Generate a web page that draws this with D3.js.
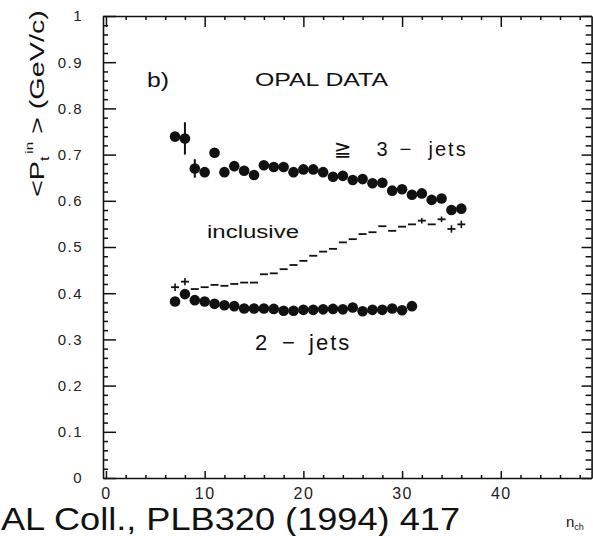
<!DOCTYPE html>
<html><head><meta charset="utf-8">
<script src="https://cdn.jsdelivr.net/npm/d3@7"></script>
<style>html,body{margin:0;padding:0;background:#fff;} svg{display:block;}</style>
</head><body><svg id="chart" width="593" height="536"></svg>
<script>
// ---- data ----
const threeJetN   = [7,8,9,10,11,12,13,14,15,16,17,18,19,20,21,22,23,24,25,26,27,28,29,30,31,32,33,34,35,36];
const threeJetVal = [0.739,0.735,0.670,0.662,0.704,0.662,0.675,0.665,0.656,0.677,0.673,0.673,0.662,0.668,0.668,
                     0.662,0.652,0.654,0.645,0.647,0.638,0.639,0.622,0.625,0.613,0.616,0.602,0.605,0.580,0.583];
const threeJetErr = [0.006,0.035,0.020,0,0,0,0,0,0,0,0,0,0,0,0,0,0,0,0,0,0,0,0,0,0,0,0,0,0,0];

const twoJetN   = [7,8,9,10,11,12,13,14,15,16,17,18,19,20,21,22,23,24,25,26,27,28,29,30,31];
const twoJetVal = [0.382,0.398,0.385,0.382,0.377,0.374,0.372,0.367,0.367,0.367,0.366,0.362,0.362,0.364,0.364,
                   0.365,0.366,0.365,0.369,0.361,0.364,0.364,0.367,0.363,0.372];

const inclN   = [7,8,9,10,11,12,13,14,15,16,17,18,19,20,21,22,23,24,25,26,27,28,29,30,31,32,33,34,35,36];
const inclVal = [0.413,0.425,0.409,0.413,0.418,0.416,0.420,0.423,0.423,0.441,0.443,0.452,0.461,0.470,0.481,
                 0.490,0.496,0.510,0.517,0.528,0.532,0.545,0.535,0.544,0.549,0.557,0.549,0.560,0.539,0.549];
const inclErr = [0.008,0.008,0,0,0,0,0,0,0,0,0,0,0,0,0,0,0,0,0,0,0,0,0,0,0,0.006,0,0.006,0.008,0.008];

const yTickValues = [0,0.1,0.2,0.3,0.4,0.5,0.6,0.7,0.8,0.9,1];
const yTickLabels = ["0","0.1","0.2","0.3","0.4","0.5","0.6","0.7","0.8","0.9","1"];
const xTickValues = [0,10,20,30,40];
const xTickLabels = ["0","10","20","30","40"];

// ---- drawing ----
const ink = "#111";
const svg = d3.select("#chart");
svg.append("rect").attr("width",593).attr("height",536).attr("fill","#fff");

const x = d3.scaleLinear().domain([-0.3, 49.2]).range([103, 591.6]);
const y = d3.scaleLinear().domain([0, 1]).range([478, 16]);

const yMinor = d3.range(0, 1.0001, 0.02).filter(v => Math.abs(v*10 - Math.round(v*10)) > 1e-6);
const xMinor = d3.range(0, 49, 2).filter(v => v % 10 !== 0);

function styleAxis(g){
  g.selectAll("path.domain").attr("stroke", ink).attr("stroke-width", 1.6);
  g.selectAll(".tick line").attr("stroke", ink).attr("stroke-width", 1.5);
  g.selectAll(".tick text").attr("fill", "#222");
}

// left
const gl = svg.append("g").attr("transform","translate(103,0)")
  .call(d3.axisLeft(y).tickValues(yTickValues).tickSize(-13).tickSizeOuter(0).tickPadding(20)
    .tickFormat((d,i)=>yTickLabels[i]));
styleAxis(gl);
gl.selectAll(".tick text").attr("font-family","'Liberation Sans', Arial, sans-serif")
  .attr("font-size",15).attr("letter-spacing","1.5px");
svg.append("g").attr("transform","translate(103,0)")
  .call(d3.axisLeft(y).tickValues(yMinor).tickSize(-5).tickSizeOuter(0).tickFormat(""))
  .call(g=>g.select("path.domain").remove()).call(styleAxis);

// right
const gr = svg.append("g").attr("transform","translate(591.6,0)")
  .call(d3.axisRight(y).tickValues(yTickValues).tickSize(-10).tickSizeOuter(0).tickFormat(""));
styleAxis(gr);
svg.append("g").attr("transform","translate(591.6,0)")
  .call(d3.axisRight(y).tickValues(yMinor).tickSize(-6).tickSizeOuter(0).tickFormat(""))
  .call(g=>g.select("path.domain").remove()).call(styleAxis);

// bottom
const gb = svg.append("g").attr("transform","translate(0,478)")
  .call(d3.axisBottom(x).tickValues(xTickValues).tickSize(-7).tickSizeOuter(0).tickPadding(10)
    .tickFormat((d,i)=>xTickLabels[i]));
styleAxis(gb);
gb.selectAll(".tick text").attr("font-family","'Liberation Sans', Arial, sans-serif")
  .attr("font-size",16).attr("letter-spacing","1.5px");
svg.append("g").attr("transform","translate(0,478)")
  .call(d3.axisBottom(x).tickValues(xMinor).tickSize(-3).tickSizeOuter(0).tickFormat(""))
  .call(g=>g.select("path.domain").remove()).call(styleAxis);

// top
const gt = svg.append("g").attr("transform","translate(0,16)")
  .call(d3.axisTop(x).tickValues(xTickValues).tickSize(-11).tickSizeOuter(0).tickFormat(""));
styleAxis(gt);
svg.append("g").attr("transform","translate(0,16)")
  .call(d3.axisTop(x).tickValues(xMinor).tickSize(-4).tickSizeOuter(0).tickFormat(""))
  .call(g=>g.select("path.domain").remove()).call(styleAxis);

// ≥3-jets
const three = threeJetN.map((n,i)=>({n, v:threeJetVal[i], e:threeJetErr[i]}));
svg.append("g").selectAll("line").data(three.filter(d=>d.e>0)).join("line")
  .attr("x1",d=>x(d.n)).attr("x2",d=>x(d.n))
  .attr("y1",d=>y(d.v-d.e)).attr("y2",d=>y(d.v+d.e))
  .attr("stroke",ink).attr("stroke-width",2);
svg.append("g").selectAll("circle").data(three).join("circle")
  .attr("cx",d=>x(d.n)).attr("cy",d=>y(d.v)).attr("r",5.3).attr("fill",ink);

// 2-jets
const two = twoJetN.map((n,i)=>({n, v:twoJetVal[i]}));
svg.append("g").selectAll("circle").data(two).join("circle")
  .attr("cx",d=>x(d.n)).attr("cy",d=>y(d.v)).attr("r",5.3).attr("fill",ink);

// inclusive
const incl = inclN.map((n,i)=>({n, v:inclVal[i], e:inclErr[i]}));
const gi = svg.append("g");
gi.selectAll("line.h").data(incl).join("line").attr("class","h")
  .attr("x1",d=>x(d.n)-4).attr("x2",d=>x(d.n)+4)
  .attr("y1",d=>y(d.v)).attr("y2",d=>y(d.v))
  .attr("stroke",ink).attr("stroke-width",1.8);
gi.selectAll("line.v").data(incl.filter(d=>d.e>0)).join("line").attr("class","v")
  .attr("x1",d=>x(d.n)).attr("x2",d=>x(d.n))
  .attr("y1",d=>y(d.v-d.e)).attr("y2",d=>y(d.v+d.e))
  .attr("stroke",ink).attr("stroke-width",1.6);

// annotations
const ff = "'Liberation Sans', Arial, Helvetica, sans-serif";
function label(txt, xx, yy, fs, w){
  const t = svg.append("text").attr("x",xx).attr("y",yy).attr("font-family",ff)
    .attr("font-size",fs).attr("fill",ink).text(txt);
  if (w) t.attr("textLength",w).attr("lengthAdjust","spacingAndGlyphs");
  return t;
}
label("b)", 147, 87, 21, 22);
label("OPAL DATA", 255, 86, 19, 133);
label("inclusive", 207, 238, 18, 92);

const t3 = svg.append("text").attr("y",156).attr("font-family",ff).attr("font-size",20).attr("fill",ink);
t3.append("tspan").attr("x",334).attr("font-family","'DejaVu Sans', sans-serif").attr("font-size",21).text("≧");
t3.append("tspan").attr("x",371).text(" 3");
t3.append("tspan").attr("x",394).text(" −");
t3.append("tspan").attr("x",421).attr("letter-spacing","2px").text(" jets");

const t2 = svg.append("text").attr("y",350).attr("font-family",ff).attr("font-size",22).attr("fill",ink);
t2.append("tspan").attr("x",255).text("2");
t2.append("tspan").attr("x",276).text(" −");
t2.append("tspan").attr("x",301).attr("letter-spacing","2px").text(" jets");

// y-axis title
const yt = svg.append("g").attr("transform","translate(44,197) rotate(-90)");
const ytt = yt.append("text").attr("x",0).attr("y",0).attr("font-family",ff).attr("font-size",21).attr("fill",ink);
ytt.append("tspan").text("<P");
ytt.append("tspan").attr("font-size",12).attr("dy",5).text("t");
ytt.append("tspan").attr("font-size",11).attr("dy",-16).attr("dx",2).text("in");
ytt.append("tspan").attr("dy",11).text(" > (GeV/c)");
const bw = ytt.node().getBBox().width || 187;
ytt.attr("transform",`scale(${187/bw},1)`);

// footer
label("AL Coll., PLB320 (1994) 417", 1, 530, 31, 459);

// n_ch axis label
const nl = svg.append("text").attr("x",566).attr("y",527).attr("font-family",ff).attr("font-size",15).attr("fill",ink);
nl.append("tspan").text("n");
nl.append("tspan").attr("font-size",9).attr("dy",3).text("ch");
</script>
</body></html>
